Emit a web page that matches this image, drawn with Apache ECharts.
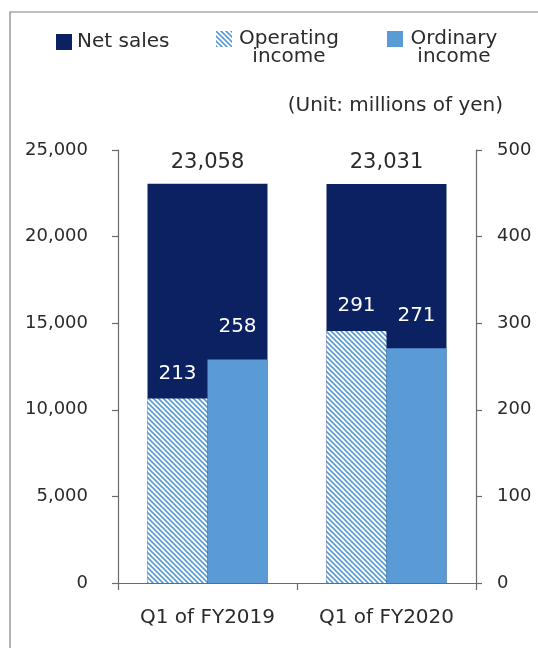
<!DOCTYPE html>
<html>
<head>
<meta charset="utf-8">
<script src="https://cdn.jsdelivr.net/npm/echarts@6/dist/echarts.min.js"></script>
<style>
html,body{margin:0;padding:0;background:#fff;}
#c{width:538px;height:648px;}
</style>
</head>
<body>
<div id="c"></div>
<script>
// ---- data ----
var categories = ['Q1 of FY2019', 'Q1 of FY2020'];
var netSales = [23058, 23031];
var operatingIncome = [213, 291];
var ordinaryIncome = [258, 271];
var leftTicks = [0, 5000, 10000, 15000, 20000, 25000];
var rightTicks = [0, 100, 200, 300, 400, 500];
var seriesNames = ['Net sales', 'Operating income', 'Ordinary income'];
var unitText = '(Unit: millions of yen)';

// ---- styles ----
var FONT = 'DejaVu Sans';
var NAVY = '#0b2162';
var LIGHT = '#5b9bd5';
var TXT = '#2b2b2b';
var AX = '#6b6b6b';

function hatch() {
  var s = 5;
  var cv = document.createElement('canvas');
  cv.width = s; cv.height = s;
  var g = cv.getContext('2d');
  g.fillStyle = '#ffffff';
  g.fillRect(0, 0, s, s);
  g.strokeStyle = LIGHT;
  g.lineWidth = 1.6;
  g.beginPath();
  g.moveTo(-1, -1); g.lineTo(s + 1, s + 1);
  g.moveTo(-1, s - 1); g.lineTo(1, s + 1);
  g.moveTo(s - 1, -1); g.lineTo(s + 1, 1);
  g.stroke();
  return { image: cv, repeat: 'repeat' };
}
var hatchFill = hatch();

function fmt(v) { return Number(v).toLocaleString('en-US'); }

var chart = echarts.init(document.getElementById('c'), null, { renderer: 'canvas' });

var legendBase = {
  orient: 'horizontal',
  itemWidth: 16,
  itemHeight: 16,
  itemGap: 0,
  icon: 'rect',
  selectedMode: false,
  textStyle: { fontFamily: FONT, fontSize: 20, color: TXT }
};

chart.setOption({
  animation: false,
  backgroundColor: '#ffffff',
  graphic: [{
    type: 'rect',
    shape: { x: 10, y: 12, width: 700, height: 800 },
    style: { fill: 'none', stroke: '#7f7f7f', lineWidth: 1.2 },
    silent: true
  }],
  title: {
    text: unitText,
    right: 30,
    top: 91,
    textStyle: { fontFamily: FONT, fontSize: 20, fontWeight: 'normal', color: TXT }
  },
  legend: [
    Object.assign({}, legendBase, {
      data: [seriesNames[0]],
      left: 51, top: 27,
      textStyle: { fontFamily: FONT, fontSize: 20, color: TXT }
    }),
    Object.assign({}, legendBase, {
      data: [seriesNames[1]],
      left: 211, top: 24,
      formatter: function () { return '{a|Operating}\n{a|income}'; },
      textStyle: {
        fontFamily: FONT, fontSize: 20, color: TXT,
        padding: [18, 0, 0, 0],
        rich: { a: { fontFamily: FONT, fontSize: 20, color: TXT, width: 104, align: 'center', lineHeight: 18 } }
      }
    }),
    Object.assign({}, legendBase, {
      data: [seriesNames[2]],
      left: 382, top: 24,
      formatter: function () { return '{a|Ordinary}\n{a|income}'; },
      textStyle: {
        fontFamily: FONT, fontSize: 20, color: TXT,
        padding: [18, 0, 0, 0],
        rich: { a: { fontFamily: FONT, fontSize: 20, color: TXT, width: 92, align: 'center', lineHeight: 18 } }
      }
    })
  ],
  grid: { left: 118, right: 62, top: 150, bottom: 65, containLabel: false },
  xAxis: [{
    type: 'category',
    data: categories,
    axisLine: { lineStyle: { color: AX, width: 1.2 } },
    axisTick: { show: true, length: 7, lineStyle: { color: AX, width: 1.2 } },
    axisLabel: { fontFamily: FONT, fontSize: 20, color: TXT, margin: 25 }
  }, {
    type: 'category',
    data: categories,
    show: false
  }],
  yAxis: [{
    type: 'value',
    min: 0, max: 25000, interval: 5000,
    position: 'left',
    splitLine: { show: false },
    axisLine: { show: true, lineStyle: { color: AX, width: 1.2 } },
    axisTick: { show: true, length: 6, lineStyle: { color: AX, width: 1.2 } },
    axisLabel: {
      fontFamily: FONT, fontSize: 18, color: TXT, margin: 30,
      formatter: function (v) { return leftTicks.indexOf(v) >= 0 ? fmt(v) : ''; }
    }
  }, {
    type: 'value',
    min: 0, max: 500, interval: 100,
    position: 'right',
    splitLine: { show: false },
    axisLine: { show: true, lineStyle: { color: AX, width: 1.2 } },
    axisTick: { show: true, length: 6, lineStyle: { color: AX, width: 1.2 } },
    axisLabel: {
      fontFamily: FONT, fontSize: 18, color: TXT, margin: 21,
      formatter: function (v) { return rightTicks.indexOf(v) >= 0 ? String(v) : ''; }
    }
  }],
  series: [{
    name: seriesNames[0],
    type: 'bar',
    xAxisIndex: 0, yAxisIndex: 0,
    data: netSales,
    barWidth: 120,
    itemStyle: { color: NAVY },
    label: {
      show: true, position: 'top', distance: 11,
      fontFamily: FONT, fontSize: 21, color: TXT,
      formatter: function (p) { return fmt(p.value); }
    },
    z: 1
  }, {
    name: seriesNames[1],
    type: 'bar',
    xAxisIndex: 1, yAxisIndex: 1,
    data: operatingIncome,
    barWidth: 60,
    barGap: 0,
    itemStyle: { color: hatchFill },
    label: {
      show: true, position: 'top', distance: 15,
      fontFamily: FONT, fontSize: 20, color: '#ffffff'
    },
    z: 2
  }, {
    name: seriesNames[2],
    type: 'bar',
    xAxisIndex: 1, yAxisIndex: 1,
    data: ordinaryIncome,
    barWidth: 60,
    barGap: 0,
    itemStyle: { color: LIGHT },
    label: {
      show: true, position: 'top', distance: 23,
      fontFamily: FONT, fontSize: 20, color: '#ffffff'
    },
    z: 2
  }]
});
</script>
</body>
</html>
